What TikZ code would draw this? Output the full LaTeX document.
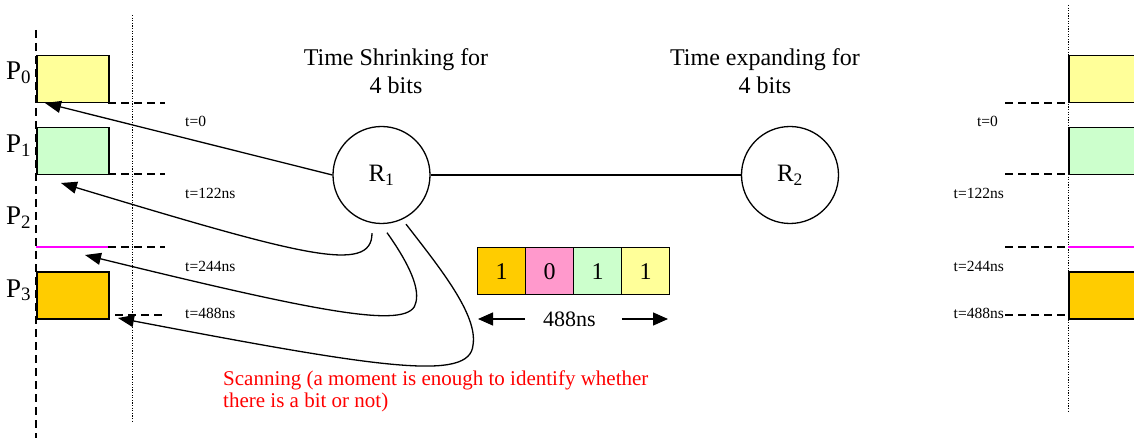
\documentclass[tikz,border=0pt]{standalone}
\usepackage{fontspec}
\setmainfont{Liberation Serif}
\usetikzlibrary{arrows.meta}
\definecolor{slotyellow}{HTML}{FFFF99}
\definecolor{slotgreen}{HTML}{CCFFCC}
\definecolor{slotorange}{HTML}{FFCC00}
\definecolor{slotpink}{HTML}{FF99CC}
\definecolor{slotmagenta}{HTML}{FF00FF}
\begin{document}
\begin{tikzpicture}[x=1pt,y=-1pt,
  slot/.style={draw, line width=1.5pt, minimum width=72pt, minimum height=47pt, inner sep=0pt, anchor=north west},
  guide/.style={line width=1.4pt, dash pattern=on 8pt off 5pt},
  scanline/.style={line width=1pt, dash pattern=on 1.2pt off 1.4pt},
  router/.style={circle, draw, line width=1.3pt, minimum size=97pt, inner sep=0pt, font=\fontsize{25}{30}\selectfont},
  sendarrow/.style={line width=1.3pt, -{Triangle[length=16pt,width=12pt]}},
  durarrow/.style={line width=1.3pt, -{Triangle[length=15pt,width=13pt]}},
  tlabel/.style={inner sep=0pt, font=\fontsize{15.5}{18}\selectfont},
  plabel/.style={anchor=base west, inner sep=0pt, font=\fontsize{27}{30}\selectfont},
  title/.style={align=center, inner sep=0pt, font=\fontsize{24}{28}\selectfont},
  bit/.style={draw, line width=1.3pt, minimum width=48pt, minimum height=47pt, inner sep=0pt, anchor=north west, font=\fontsize{24}{28}\selectfont}]
\useasboundingbox (0,0) rectangle (1134,438);
\clip (0,0) rectangle (1134,438);

% ---- receiving time slots (left) ----
\draw[guide] (36,30) -- (36,438);
\draw[scanline] (132,15) -- (132,422);
\draw[guide] (108,103) -- (165,103);
\draw[guide] (108,174) -- (165,174);
\draw[guide] (108,247) -- (165,247);
\draw[guide] (115,315) -- (165,315);
\node[slot, fill=slotyellow] (p0) at (36,55) {};
\node[slot, fill=slotgreen]  (p1) at (36,127) {};
\draw[slotmagenta, line width=1.5pt] (36,247) -- (108,247);
\node[slot, fill=slotorange] (p3) at (36,271) {};

\node[plabel] (lp0) at (6,80)  {P\textsubscript{0}};
\node[plabel] (lp1) at (6,153) {P\textsubscript{1}};
\node[plabel] (lp2) at (6,225) {P\textsubscript{2}};
\node[plabel] (lp3) at (6,297) {P\textsubscript{3}};

\node[tlabel, anchor=base west] (lt0) at (185,127) {t=0};
\node[tlabel, anchor=base west] (lt1) at (185,199) {t=122ns};
\node[tlabel, anchor=base west] (lt2) at (185,271) {t=244ns};
\node[tlabel, anchor=base west] (lt3) at (185,318) {t=488ns};

% ---- routers ----
\node[router] (R1) at (381.5,175) {R\textsubscript{1}};
\node[router] (R2) at (790,175) {R\textsubscript{2}};
\draw[line width=1.3pt] (R1) -- (R2);

\node[title] (t1) at (396,71) {Time Shrinking for\\4 bits};
\node[title] (t2) at (765,71) {Time expanding for\\4 bits};

% ---- arrows back to the slots ----
\coordinate (tip0) at (45,103);
\coordinate (tip1) at (61,183);
\coordinate (tip2) at (85,255);
\coordinate (tip3) at (118,318);
\draw[sendarrow] (R1.west) -- (tip0);
\draw[sendarrow] ([shift={(-9.5,9)}]R1.south) .. controls (372,275) and (300,255) .. (tip1);
\draw[sendarrow] ([shift={(5.5,8.5)}]R1.south) .. controls (405,258) and (420,285) .. (416,302)
      .. controls (412,330) and (330,315) .. (tip2);
\draw[sendarrow] ([shift={(24.5,0)}]R1.south) .. controls (440,268) and (478,315) .. (473,345)
      .. controls (470,382) and (380,368) .. (tip3);

% ---- 4-bit packet ----
\node[bit, fill=slotorange] (b1) at (477,247) {1};
\node[bit, fill=slotpink]   (b2) at (525,247) {0};
\node[bit, fill=slotgreen]  (b3) at (573,247) {1};
\node[bit, fill=slotyellow] (b4) at (621,247) {1};
\node[inner sep=0pt, font=\fontsize{22}{26}\selectfont] (dur) at (569.5,319) {488ns};
\coordinate (durL) at (478,319);
\coordinate (durR) at (668,319);
\draw[durarrow] ([xshift=-18pt]dur.west) -- (durL);
\draw[durarrow] ([xshift=26pt]dur.east) -- (durR);

\node[anchor=base west, align=left, inner sep=0pt, text=red, font=\fontsize{21}{21.5}\selectfont] (scan)
  at (223,407) {Scanning (a moment is enough to identify whether\\there is a bit or not)};

% ---- expanded time slots (right) ----
\draw[scanline] (1068,5) -- (1068,412);
\draw[guide] (1005,103) -- (1068,103);
\draw[guide] (1005,174) -- (1068,174);
\draw[guide] (1005,247) -- (1068,247);
\draw[guide] (1005,315) -- (1068,315);
\node[slot, fill=slotyellow, minimum width=90pt] (q0) at (1068,55) {};
\node[slot, fill=slotgreen, minimum width=90pt]  (q1) at (1068,127) {};
\draw[slotmagenta, line width=1.5pt] (1068,247) -- (1140,247);
\node[slot, fill=slotorange, minimum width=90pt] (q3) at (1068,271) {};

\node[tlabel, anchor=base east] (rt0) at (998,127) {t=0};
\node[tlabel, anchor=base east] (rt1) at (1004,199) {t=122ns};
\node[tlabel, anchor=base east] (rt2) at (1004,271) {t=244ns};
\node[tlabel, anchor=base east] (rt3) at (1004,318) {t=488ns};
\end{tikzpicture}
\end{document}
